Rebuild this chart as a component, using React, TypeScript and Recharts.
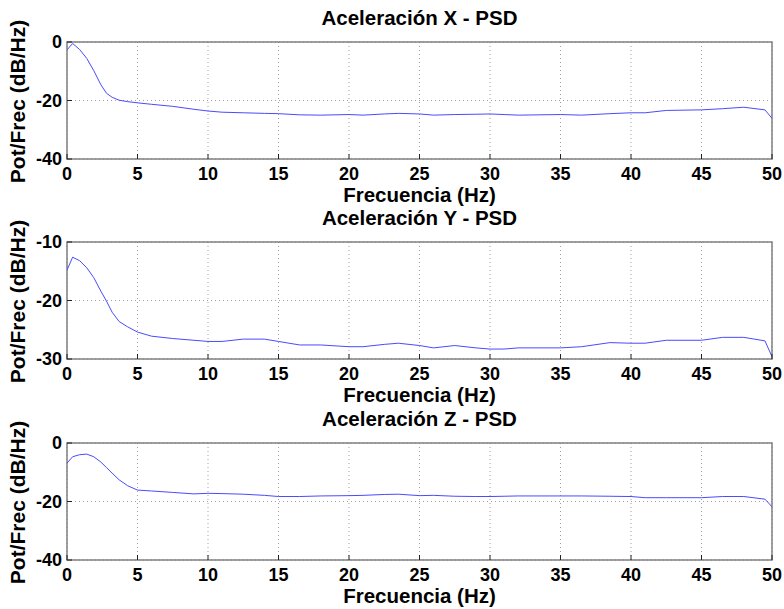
import React from 'react';
import { LineChart, Line, XAxis, YAxis, CartesianGrid, ReferenceArea } from 'recharts';

// frequency bins (Hz)
const FREQ = [
  0, 0.4, 0.9, 1.4, 1.9, 2.4, 2.8, 3.2, 3.7, 4.3, 5, 6, 7.5, 9, 10, 11, 12.5, 14, 15, 16.5, 18,
  20, 21, 22.5, 23.5, 25, 26, 27.5, 29, 30, 31, 32, 35, 36.5, 38.5, 40, 41, 42.5, 45, 46.5, 48,
  49.5, 50,
];

// PSD per axis (dB/Hz)
const PSD_X = [
  -2.7, -0.5, -2.6, -5.6, -9.8, -14.6, -17.5, -18.9, -19.9, -20.4, -20.8, -21.3, -22.0, -23.0,
  -23.6, -24.0, -24.2, -24.4, -24.5, -24.9, -25.0, -24.8, -25.0, -24.6, -24.4, -24.6, -25.0,
  -24.8, -24.7, -24.6, -24.8, -25.0, -24.8, -25.0, -24.5, -24.2, -24.2, -23.4, -23.2, -22.8,
  -22.3, -23.2, -26.1,
];
const PSD_Y = [
  -14.8, -12.6, -13.2, -14.4, -16.1, -18.4, -20.1, -22.0, -23.6, -24.5, -25.4, -26.1, -26.5,
  -26.8, -27.0, -27.0, -26.6, -26.6, -27.0, -27.6, -27.6, -27.9, -27.9, -27.5, -27.3, -27.7,
  -28.1, -27.7, -28.1, -28.3, -28.3, -28.1, -28.1, -27.9, -27.2, -27.3, -27.3, -26.8, -26.8,
  -26.3, -26.3, -26.9, -29.6,
];
const PSD_Z = [
  -6.9, -4.7, -4.0, -3.8, -4.7, -6.5, -8.4, -10.3, -12.6, -14.6, -16.1, -16.4, -16.9, -17.4,
  -17.2, -17.3, -17.5, -17.9, -18.3, -18.3, -18.1, -18.0, -17.9, -17.6, -17.5, -18.0, -17.9,
  -18.2, -18.3, -18.3, -18.2, -18.1, -18.1, -18.1, -18.2, -18.3, -18.7, -18.7, -18.7, -18.3,
  -18.3, -19.2, -21.8,
];

const FREQ_TICKS = [0, 5, 10, 15, 20, 25, 30, 35, 40, 45, 50];
const TICKS_X = [-40, -20, 0];
const TICKS_Y = [-30, -20, -10];
const TICKS_Z = [-40, -20, 0];

const TITLES = ['Aceleración X - PSD', 'Aceleración Y - PSD', 'Aceleración Z - PSD'];
const X_LABEL = 'Frecuencia (Hz)';
const Y_LABEL = 'Pot/Frec (dB/Hz)';

const FONT = '"Liberation Sans", Arial, Helvetica, sans-serif';
const W = 784;
const H = 208;

const tickStyle = { fontSize: 18, fontWeight: 'bold', fill: '#000', fontFamily: FONT };
const labelStyle = { fontSize: 20.5, fontWeight: 'bold', fill: '#000', fontFamily: FONT };
const titleStyle = { fontSize: 20.5, fontWeight: 'bold', fill: '#000', fontFamily: FONT };

const yLabel = (props: any) => {
  const vb = props.viewBox || { y: 0, height: 0 };
  const cy = vb.y + vb.height / 2 + 1;
  const x = 25;
  return (
    <text
      x={x}
      y={cy}
      transform={`rotate(-90 ${x} ${cy})`}
      textAnchor="middle"
      {...labelStyle}
      fontSize={21}
    >
      {Y_LABEL}
    </text>
  );
};

interface PanelProps {
  title: string;
  values: number[];
  yTicks: number[];
  top: number;
}

const Panel: React.FC<PanelProps> = ({ title, values, yTicks, top }) => {
  const data = FREQ.map((f, i) => ({ f, v: values[i] }));
  const yDomain = [yTicks[0], yTicks[yTicks.length - 1]];

  return (
    <div style={{ position: 'absolute', left: 0, top, width: W, height: H }}>
      <LineChart width={W} height={H} data={data} margin={{ top: 41, right: 11, left: 7, bottom: 9 }}>
        <CartesianGrid stroke="#a0a0a0" strokeDasharray="1 3" />
        <XAxis
          dataKey="f"
          type="number"
          domain={[0, 50]}
          ticks={FREQ_TICKS}
          allowDataOverflow
          height={40}
          axisLine={false}
          tickLine={{ stroke: '#222' }}
          tickSize={-5}
          tickMargin={13}
          tick={tickStyle}
          label={{ value: X_LABEL, position: 'insideBottom', offset: -3, ...labelStyle }}
        />
        <XAxis
          xAxisId="top"
          orientation="top"
          type="number"
          domain={[0, 50]}
          ticks={FREQ_TICKS}
          height={1}
          axisLine={false}
          tickLine={{ stroke: '#222' }}
          tickSize={-5}
          tick={false}
          label={{ value: title, position: 'top', offset: 16, ...titleStyle }}
        />
        <YAxis
          type="number"
          domain={yDomain}
          ticks={yTicks}
          allowDataOverflow
          width={60}
          axisLine={false}
          tickLine={{ stroke: '#222' }}
          tickSize={-5}
          tickMargin={10}
          tick={tickStyle}
          label={{ content: yLabel }}
        />
        <YAxis
          yAxisId="right"
          orientation="right"
          type="number"
          domain={yDomain}
          ticks={yTicks}
          width={1}
          axisLine={false}
          tickLine={{ stroke: '#222' }}
          tickSize={-5}
          tick={false}
        />
        <ReferenceArea
          x1={0}
          x2={50}
          y1={yDomain[0]}
          y2={yDomain[1]}
          fill="none"
          stroke="#808080"
          strokeWidth={1.5}
        />
        <Line
          type="linear"
          dataKey="v"
          stroke="#4a4aff"
          strokeWidth={1}
          dot={false}
          isAnimationActive={false}
        />
      </LineChart>
    </div>
  );
};

export default function App() {
  return (
    <div
      style={{
        position: 'absolute',
        left: 0,
        top: 0,
        width: W,
        height: 609,
        background: '#fff',
        overflow: 'hidden',
      }}
    >
      <Panel title={TITLES[0]} values={PSD_X} yTicks={TICKS_X} top={0} />
      <Panel title={TITLES[1]} values={PSD_Y} yTicks={TICKS_Y} top={200} />
      <Panel title={TITLES[2]} values={PSD_Z} yTicks={TICKS_Z} top={401} />
    </div>
  );
}
